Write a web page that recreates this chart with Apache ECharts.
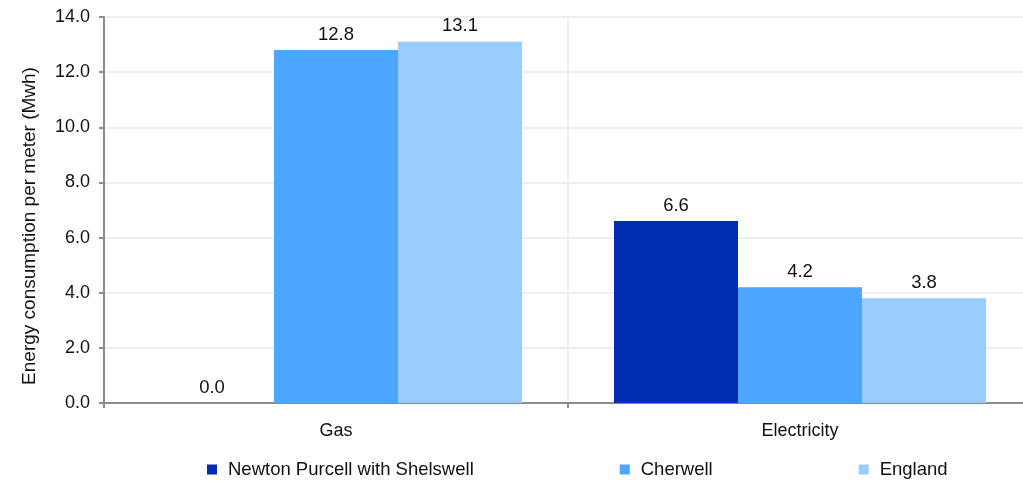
<!DOCTYPE html>
<html>
<head>
<meta charset="utf-8">
<script src="https://cdn.jsdelivr.net/npm/echarts@6/dist/echarts.min.js"></script>
<style>html,body{margin:0;padding:0;background:#fff}#c{width:1023px;height:481px}</style>
</head>
<body>
<div id="c"></div>
<script>
const categories = ['Gas', 'Electricity'];
const seriesNames = ['Newton Purcell with Shelswell', 'Cherwell', 'England'];
const newtonValues = [0.0, 6.6];
const cherwellValues = [12.8, 4.2];
const englandValues = [13.1, 3.8];
const yTicks = [0, 2, 4, 6, 8, 10, 12, 14];
const yTitle = 'Energy consumption per meter (Mwh)';

const colors = ['#002db3', '#4da6ff', '#99ccff'];
const font = 'Liberation Sans, Arial, sans-serif';
const chart = echarts.init(document.getElementById('c'));
const values = [newtonValues, cherwellValues, englandValues];
chart.setOption({
  animation: false,
  textStyle: { fontFamily: font },
  grid: { left: 104, width: 928, top: 17, height: 386, containLabel: false, outerBoundsMode: 'none' },
  legend: {
    top: 455, left: 202, itemWidth: 10, itemHeight: 10, itemGap: 146, icon: 'rect',
    textStyle: { fontSize: 18.5, color: '#111', fontFamily: font, padding: [0, 0, 0, 6] },
    data: seriesNames
  },
  xAxis: {
    type: 'category', data: categories,
    axisLine: { lineStyle: { color: '#8c8c8c', width: 2 } },
    axisTick: { show: true, length: 5, lineStyle: { color: '#8c8c8c', width: 2 } },
    axisLabel: { fontSize: 18, color: '#111', margin: 19 },
    splitLine: { show: true, lineStyle: { color: '#eeeeee', width: 2 } }
  },
  yAxis: {
    type: 'value', min: yTicks[0], max: yTicks[yTicks.length - 1], interval: 2,
    name: yTitle, nameLocation: 'middle', nameGap: 65,
    nameTextStyle: { fontSize: 19, color: '#111', padding: [0, 32, 0, 0] },
    axisLine: { show: true, lineStyle: { color: '#8c8c8c', width: 2 } },
    axisTick: { show: true, length: 5, lineStyle: { color: '#8c8c8c', width: 2 } },
    axisLabel: { fontSize: 18, color: '#111', margin: 14, formatter: v => v.toFixed(1) },
    splitLine: { show: true, lineStyle: { color: '#eeeeee', width: 2 } }
  },
  series: seriesNames.map((n, i) => ({
    name: n, type: 'bar', data: values[i], barWidth: 124, barGap: '0%',
    itemStyle: { color: colors[i] },
    label: { show: true, position: 'top', distance: 6, fontSize: 18.5, color: '#111', formatter: p => p.value.toFixed(1) }
  }))
});
</script>
</body>
</html>
